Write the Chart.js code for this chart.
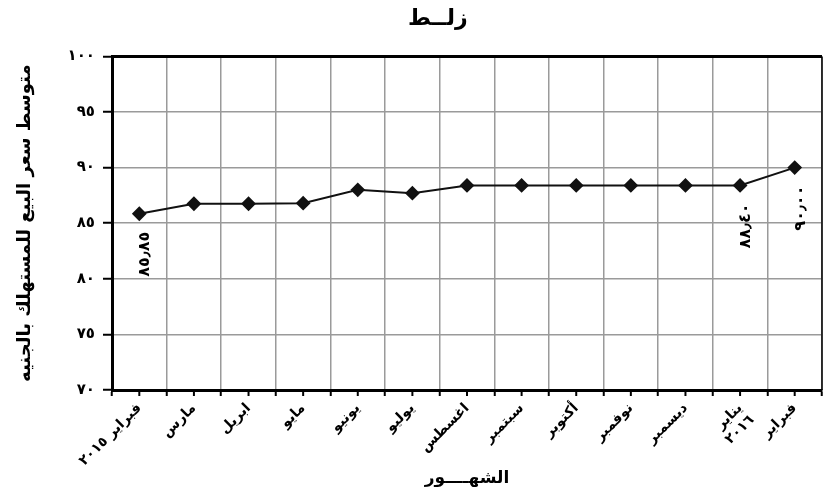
<!DOCTYPE html>
<html>
<head>
<meta charset="utf-8">
<script src="https://cdn.jsdelivr.net/npm/chart.js@4"></script>
<style>
html,body{margin:0;padding:0;background:#fff;}
#wrap{width:824px;height:502px;}
</style>
</head>
<body>
<div id="wrap"><canvas id="c" width="824" height="502"></canvas></div>
<script>
const chartTitle = '       زلــط';
const yTitle = 'متوسط سعر البيع للمستهلك بالجنيه';
const xTitle = 'الشهــــور';
const categories = ['فبراير ٢٠١٥','مارس','ابريل','مايو','يونيو','يوليو','اغسطس','سبتمبر','أكتوبر','نوفمبر','ديسمبر',['يناير','٢٠١٦'],'فبراير'];
const prices = [85.85, 86.75, 86.75, 86.80, 88.00, 87.70, 88.40, 88.40, 88.40, 88.40, 88.40, 88.40, 90.00];
const pointLabels = ['٨٥٫٨٥', null, null, null, null, null, null, null, null, null, null, '٨٨٫٤٠', '٩٠٫٠٠'];
const yMin = 70, yMax = 100, yStep = 5;

const arabicDigits = '٠١٢٣٤٥٦٧٨٩';
const toArabic = v => String(v).replace(/\d/g, d => arabicDigits[d]);
const FONT = "'DejaVu Sans', sans-serif";

const framePlugin = {
  id: 'frame',
  afterDatasetsDraw(chart) {
    const {ctx, chartArea: a} = chart;
    ctx.save();
    ctx.strokeStyle = '#000';
    ctx.lineWidth = 3;
    ctx.beginPath();
    ctx.moveTo(a.left, a.top); ctx.lineTo(a.right, a.top);
    ctx.stroke();
    ctx.lineWidth = 1.5;
    ctx.beginPath();
    ctx.moveTo(a.right, a.top); ctx.lineTo(a.right, a.bottom);
    ctx.stroke();
    const xs = chart.scales.x;
    ctx.lineWidth = 2;
    for (let i = 0; i < categories.length; i++) {
      const px = xs.getPixelForValue(i);
      ctx.beginPath();
      ctx.moveTo(px, a.bottom); ctx.lineTo(px, a.bottom + 6);
      ctx.stroke();
    }
    ctx.restore();
  }
};

const labelPlugin = {
  id: 'vlabels',
  afterDatasetsDraw(chart) {
    const {ctx} = chart;
    const meta = chart.getDatasetMeta(0);
    ctx.save();
    ctx.fillStyle = '#000';
    ctx.font = 'bold 16px ' + FONT;
    ctx.textAlign = 'right';
    ctx.textBaseline = 'middle';
    meta.data.forEach((pt, i) => {
      const t = pointLabels[i];
      if (!t) return;
      ctx.save();
      ctx.translate(pt.x + 6, pt.y + 18);
      ctx.rotate(-Math.PI / 2);
      ctx.fillText(t, 0, 0);
      ctx.restore();
    });
    ctx.restore();
  }
};

new Chart(document.getElementById('c'), {
  type: 'line',
  data: {
    labels: categories,
    datasets: [{
      data: prices,
      borderColor: '#111',
      borderWidth: 2,
      backgroundColor: '#111',
      pointStyle: 'rectRot',
      pointRadius: 6,
      pointBackgroundColor: '#111',
      pointBorderColor: '#111',
      tension: 0,
      clip: false
    }]
  },
  options: {
    responsive: false,
    animation: false,
    devicePixelRatio: 1,
    layout: {autoPadding: false, padding: {left: 0, right: 2, top: 0, bottom: 0}},
    plugins: {
      legend: {display: false},
      tooltip: {enabled: false},
      title: {
        display: true,
        text: chartTitle,
        color: '#000',
        font: {family: FONT, size: 22, weight: 'bold'},
        padding: {top: 6, bottom: 24}
      }
    },
    scales: {
      x: {
        type: 'category',
        offset: true,
        afterFit(s) { s.height = 112; s.paddingLeft = 0; s.paddingRight = 0; },
        grid: {offset: true, color: '#9a9a9a', lineWidth: 1.5, tickColor: '#000', tickWidth: 2, tickLength: 6, drawTicks: true},
        border: {display: true, color: '#000', width: 3},
        ticks: {
          color: '#000',
          font: {family: FONT, size: 14, weight: 'bold'},
          minRotation: 45, maxRotation: 45,
          autoSkip: false,
          padding: 4
        },
        title: {
          display: true,
          text: xTitle,
          color: '#000',
          font: {family: FONT, size: 17, weight: 'bold'},
          padding: {top: 0, bottom: 13}
        }
      },
      y: {
        min: yMin, max: yMax,
        afterFit(s) { s.width = 112; },
        grid: {color: '#9a9a9a', lineWidth: 1.5, tickColor: '#000', tickWidth: 2, tickLength: 9},
        border: {display: true, color: '#000', width: 3},
        ticks: {
          stepSize: yStep,
          color: '#000',
          font: {family: FONT, size: 15, weight: 'bold'},
          padding: 8,
          callback: v => toArabic(v)
        },
        title: {
          display: true,
          text: yTitle,
          color: '#000',
          font: {family: FONT, size: 18, weight: 'bold'},
          padding: {top: 15, bottom: 0}
        }
      }
    }
  },
  plugins: [framePlugin, labelPlugin]
});
</script>
</body>
</html>
